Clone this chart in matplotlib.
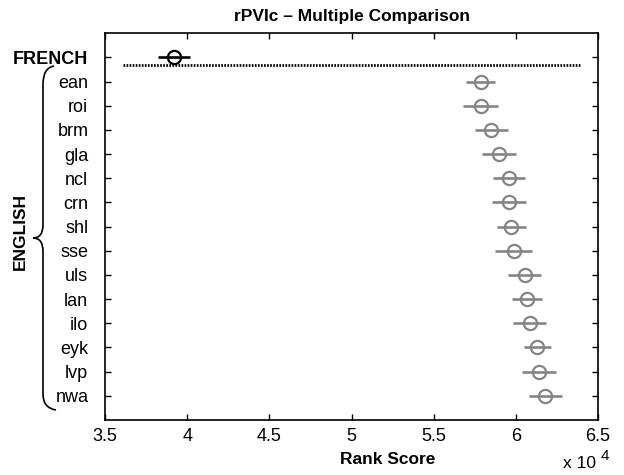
import matplotlib
matplotlib.use('Agg')
import matplotlib.pyplot as plt
from matplotlib.path import Path
from matplotlib.patches import PathPatch
from matplotlib.ticker import FuncFormatter

plt.rcParams['font.family'] = ['Liberation Sans', 'DejaVu Sans']

groups = ['FRENCH', 'ean', 'roi', 'brm', 'gla', 'ncl', 'crn', 'shl', 'sse',
          'uls', 'lan', 'ilo', 'eyk', 'lvp', 'nwa']
means = [39200, 57860, 57860, 58510, 58950, 59590, 59590, 59730, 59870,
         60540, 60680, 60840, 61310, 61390, 61800]
halfwidths = [975, 895, 1055, 985, 1035, 960, 1015, 885, 1115,
              995, 930, 985, 835, 1025, 995]
colors = ['black'] + ['#858585'] * 14
xticks = [35000, 40000, 45000, 50000, 55000, 60000, 65000]

W, H = 624, 475
fig = plt.figure(figsize=(6.24, 4.75), dpi=100)
ax = fig.add_axes([105/W, 1-420/H, (598-105)/W, (420-33.3)/H])

rows = list(range(1, len(groups)+1))
for r, m, hw, c in zip(rows, means, halfwidths, colors):
    ax.plot([m-hw, m+hw], [r, r], color=c, lw=1.9, solid_capstyle='butt')
    ax.plot(m, r, 'o', mfc='none', mec=c, mew=1.6, ms=9.5)

# dotted separator below the french row
ax.plot([36100, 63930], [1.3, 1.3], color='black', ls=(0, (0.6, 0.5)), lw=2)

ax.set_xlim(35000, 65000)
ax.set_ylim(16, 0)
ax.set_xticks(xticks)
ax.xaxis.set_major_formatter(FuncFormatter(lambda v, p: '%g' % (v/1e4)))
ax.set_yticks(rows)
ax.set_yticklabels(groups)
ax.get_yticklabels()[0].set_fontweight('bold')
ax.get_yticklabels()[0].set_fontsize(12.5)
ax.tick_params(direction='in', length=4, width=1, top=True, right=True,
               labelsize=13)
ax.tick_params(axis='x', pad=6)
ax.tick_params(axis='y', pad=12)
for s in ax.spines.values():
    s.set_linewidth(1.2)

ax.set_title('rPVIc \u2013 Multiple Comparison', fontsize=12.5, fontweight='bold', pad=9)
fig.text(388/W, 1-460/H, 'Rank Score', ha='center', va='center',
         fontsize=12.5, fontweight='bold')
fig.text(563/W, 1-468/H, 'x 10', ha='left', va='baseline', fontsize=12.5)
fig.text(601/W, 1-460/H, '4', ha='left', va='baseline', fontsize=11)
fig.text(20/W, 1-232/H, 'ENGLISH', rotation=90, ha='center', va='center',
         fontsize=12.5, fontweight='bold')

# brace on the left
def p(x, y):
    return (x/W, 1-y/H)
verts = [p(54, 66), p(43, 68), p(43, 84),
         p(43, 225),
         p(43, 238), p(33, 238),
         p(43, 238), p(43, 251),
         p(43, 394),
         p(43, 408), p(56, 410)]
codes = [Path.MOVETO, Path.CURVE3, Path.CURVE3,
         Path.LINETO,
         Path.CURVE3, Path.CURVE3,
         Path.CURVE3, Path.CURVE3,
         Path.LINETO,
         Path.CURVE3, Path.CURVE3]
fig.patches.append(PathPatch(Path(verts, codes), transform=fig.transFigure,
                             fill=False, lw=1.2, color='black'))

fig.savefig('out.png', dpi=100)
